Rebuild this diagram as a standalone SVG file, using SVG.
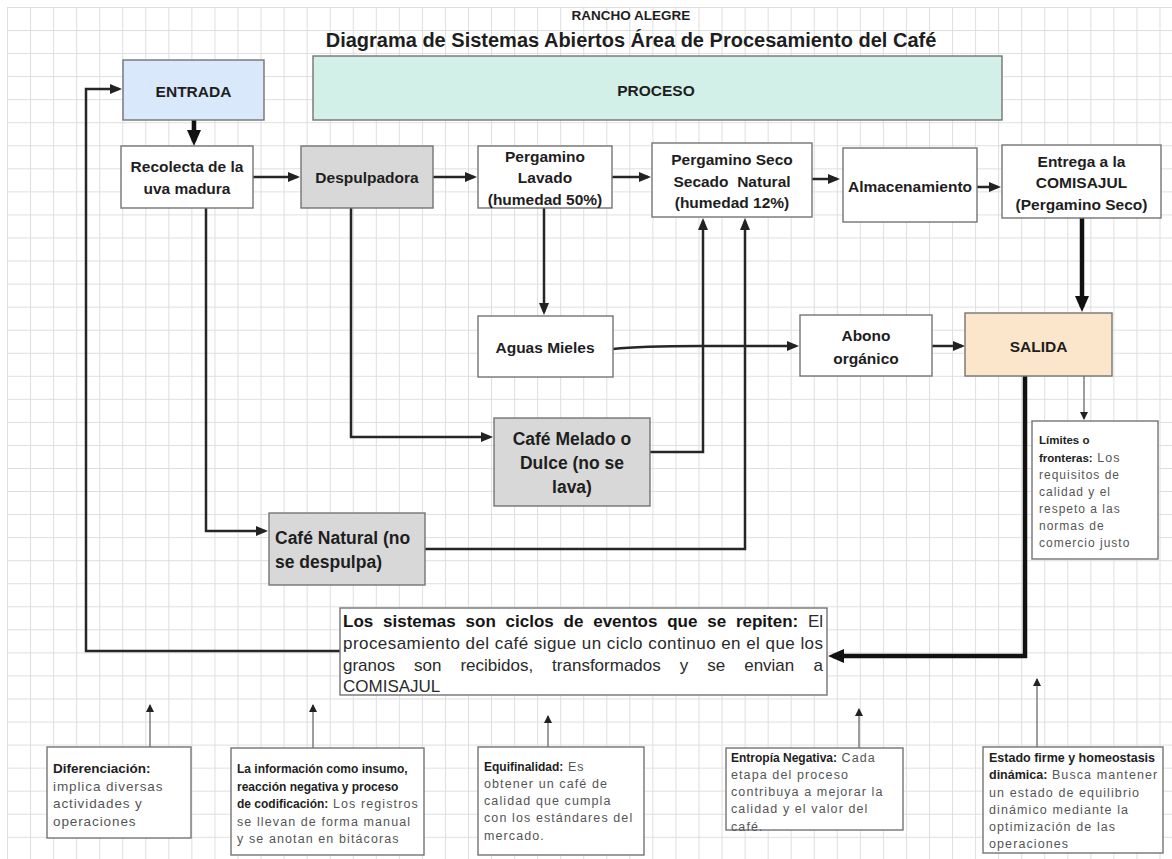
<svg xmlns="http://www.w3.org/2000/svg" width="1172" height="859" viewBox="0 0 1172 859">
  <defs>
    <pattern id="grid" x="7" y="7" width="23.05" height="23.05" patternUnits="userSpaceOnUse">
      <path d="M0.5 0V23.05M0 0.5H23.05" fill="none" stroke="#dedede" stroke-width="1"/>
    </pattern>
    <marker id="ah" viewBox="0 0 12 10" refX="9" refY="5" markerWidth="12" markerHeight="10" markerUnits="userSpaceOnUse" orient="auto">
      <path d="M0,0L12,5L0,10z" fill="#222"/>
    </marker>
    <marker id="ahBig" viewBox="0 0 16 14" refX="11" refY="7" markerWidth="16" markerHeight="14" markerUnits="userSpaceOnUse" orient="auto">
      <path d="M0,0L16,7L0,14z" fill="#111"/>
    </marker>
    <marker id="ahThin" viewBox="0 0 8 8" refX="7" refY="4" markerWidth="8" markerHeight="8" markerUnits="userSpaceOnUse" orient="auto">
      <path d="M0,0L8,4L0,8z" fill="#222"/>
    </marker>
  </defs>
  <style>
    text { font-family: "Liberation Sans", Arial, sans-serif; }
    .box { fill: #fff; stroke: #747474; stroke-width: 1.4; }
    .gray { fill: #d8d8d8; }
    .lbl { font-weight: bold; font-size: 15.5px; fill: #1e1e1e; text-anchor: middle; }
    .big { font-size: 17.5px; }
    .title { font-weight: bold; fill: #1e1e1e; text-anchor: middle; }
    .para { font-size: 17px; fill: #2a2a2a; }
    .b { font-weight: bold; fill: #151515; }
    .note { font-size: 12.5px; fill: #555; letter-spacing: 1.1px; }
    .noteb { font-weight: bold; fill: #1e1e1e; letter-spacing: 0; }
    .link { fill: none; stroke: #262626; stroke-width: 2.5; marker-end: url(#ah); }
    .thick { fill: none; stroke: #111; stroke-width: 4.5; marker-end: url(#ahBig); }
    .thin { fill: none; stroke: #6a6a6a; stroke-width: 1.3; marker-end: url(#ahThin); }
  </style>

  <rect width="1172" height="859" fill="#fff"/>
  <rect x="7" y="7" width="1165" height="852" fill="url(#grid)"/>

  <!-- heading -->
  <text class="title" x="631" y="20" font-size="13.5">RANCHO ALEGRE</text>
  <text class="title" x="631" y="47" font-size="20">Diagrama de Sistemas Abiertos Área de Procesamiento del Café</text>

  <!-- connectors -->
  <g id="connectors">
    <path class="link" d="M340,651H86V89H119" stroke-width="3"/>
    <path class="thick" d="M194,120V141"/>
    <path class="link" d="M253,177H297"/>
    <path class="link" d="M433,177H474"/>
    <path class="link" d="M612,177H648"/>
    <path class="link" d="M812,179H837"/>
    <path class="link" d="M968,187H998"/>
    <path class="link" d="M544,208V312"/>
    <path class="link" d="M613,349Q640,346 700,346H796"/>
    <path class="link" d="M932,346H962"/>
    <path class="thick" d="M1082,218V307"/>
    <path class="link" d="M351,208V437H490"/>
    <path class="link" d="M206,208V531H265"/>
    <path class="link" d="M650,452H703V221"/>
    <path class="link" d="M425,549H745V221"/>
    <path class="thick" d="M1025,376V656H833"/>
    <path class="thin" d="M1084,376V419"/>
    <path class="thin" d="M150,747V705"/>
    <path class="thin" d="M313,748V705"/>
    <path class="thin" d="M548,747V716"/>
    <path class="thin" d="M859,748V709"/>
    <path class="thin" d="M1037,747V679"/>
  </g>

  <g id="entrada">
    <rect class="box" x="123" y="60" width="141" height="60" style="fill:#dae8fc"/>
    <text class="lbl" x="193.5" y="97" font-size="16">ENTRADA</text>
  </g>
  <g id="proceso">
    <rect class="box" x="313" y="56" width="689" height="64" style="fill:#d2efe8"/>
    <text class="lbl" x="656" y="96">PROCESO</text>
  </g>
  <g id="recolecta">
    <rect class="box" x="121" y="146" width="132" height="62"/>
    <text class="lbl" x="187" y="172">Recolecta de la</text>
    <text class="lbl" x="187" y="194">uva madura</text>
  </g>
  <g id="despulpadora">
    <rect class="box gray" x="301" y="146" width="132" height="62"/>
    <text class="lbl" x="367" y="183">Despulpadora</text>
  </g>
  <g id="pergamino-lavado">
    <rect class="box" x="478" y="146" width="134" height="62"/>
    <text class="lbl" x="545" y="162">Pergamino</text>
    <text class="lbl" x="545" y="183">Lavado</text>
    <text class="lbl" x="545" y="205">(humedad 50%)</text>
  </g>
  <g id="pergamino-seco">
    <rect class="box" x="652" y="143" width="160" height="74"/>
    <text class="lbl" x="732" y="165">Pergamino Seco</text>
    <text class="lbl" x="732" y="187">Secado&#160; Natural</text>
    <text class="lbl" x="732" y="208">(humedad 12%)</text>
  </g>
  <g id="almacenamiento">
    <rect class="box" x="843" y="148" width="134" height="74"/>
    <text class="lbl" x="910" y="192" font-size="13.5">Almacenamiento</text>
  </g>
  <g id="entrega">
    <rect class="box" x="1002" y="145" width="159" height="73"/>
    <text class="lbl" x="1081.5" y="167" font-size="16">Entrega a la</text>
    <text class="lbl" x="1081.5" y="188" font-size="16">COMISAJUL</text>
    <text class="lbl" x="1081.5" y="210" font-size="16">(Pergamino Seco)</text>
  </g>
  <g id="aguas-mieles">
    <rect class="box" x="478" y="316" width="135" height="61"/>
    <text class="lbl" x="545" y="353" font-size="17">Aguas Mieles</text>
  </g>
  <g id="abono">
    <rect class="box" x="800" y="315" width="132" height="61"/>
    <text class="lbl" x="866" y="341" font-size="16.5">Abono</text>
    <text class="lbl" x="866" y="364" font-size="16.5">orgánico</text>
  </g>
  <g id="salida">
    <rect class="box" x="965" y="313" width="147" height="63" style="fill:#fce6cb"/>
    <text class="lbl" x="1038.5" y="352">SALIDA</text>
  </g>
  <g id="cafe-melado">
    <rect class="box gray" x="494" y="418" width="156" height="88"/>
    <text class="lbl big" x="572" y="445">Café Melado o</text>
    <text class="lbl big" x="572" y="469">Dulce (no se</text>
    <text class="lbl big" x="572" y="493">lava)</text>
  </g>
  <g id="cafe-natural">
    <rect class="box gray" x="269" y="513" width="156" height="72"/>
    <text class="lbl big" x="275" y="544" style="text-anchor:start">Café Natural (no</text>
    <text class="lbl big" x="275" y="568" style="text-anchor:start">se despulpa)</text>
  </g>

  <g id="limites">
    <rect class="box" x="1032" y="421" width="126" height="138"/>
    <text class="note" x="1039" y="444" font-size="12"><tspan class="noteb" font-size="11.5">Límites o</tspan></text>
    <text class="note" x="1039" y="461.5" font-size="12"><tspan class="noteb" font-size="11.5">fronteras:</tspan>  Los</text>
    <text class="note" x="1039" y="479" style="font-size:12px;letter-spacing:1px">requisitos de</text>
    <text class="note" x="1039" y="496" style="font-size:12px;letter-spacing:1px">calidad y el</text>
    <text class="note" x="1039" y="513" style="font-size:12px;letter-spacing:1px">respeto a las</text>
    <text class="note" x="1039" y="530" style="font-size:12px;letter-spacing:1px">normas de</text>
    <text class="note" x="1039" y="547" style="font-size:12px;letter-spacing:1px">comercio justo</text>
  </g>

  <g id="ciclo">
    <rect class="box" x="340" y="608" width="487" height="87"/>
    <text class="para b" y="627"><tspan x="343">Los</tspan><tspan x="383">sistemas</tspan><tspan x="465.6">son</tspan><tspan x="505.6">ciclos</tspan><tspan x="563.6">de</tspan><tspan x="593.2">eventos</tspan><tspan x="667.2">que</tspan><tspan x="707.2">se</tspan><tspan x="735.9">repiten:</tspan></text>
    <text class="para" x="823" y="627" text-anchor="end">El</text>
    <text class="para" x="343" y="649" textLength="480" lengthAdjust="spacing">procesamiento del café sigue un ciclo continuo en el que los</text>
    <text class="para" y="671"><tspan x="343">granos</tspan><tspan x="414">son</tspan><tspan x="460.4">recibidos,</tspan><tspan x="552.1">transformados</tspan><tspan x="679.7">y</tspan><tspan x="707.2">se</tspan><tspan x="744.2">envian</tspan></text>
    <text class="para" x="823" y="671" text-anchor="end">a</text>
    <text class="para" x="343" y="692">COMISAJUL</text>
  </g>

  <g id="diferenciacion">
    <rect class="box" x="47" y="747" width="144" height="91"/>
    <text class="note" x="53" y="773" style="font-size:13.5px;letter-spacing:0.9px"><tspan class="noteb">Diferenciación:</tspan></text>
    <text class="note" x="53" y="790.5" style="font-size:13.5px;letter-spacing:0.9px">implica diversas</text>
    <text class="note" x="53" y="808" style="font-size:13.5px;letter-spacing:0.9px">actividades y</text>
    <text class="note" x="53" y="825.5" style="font-size:13.5px;letter-spacing:0.9px">operaciones</text>
  </g>

  <g id="informacion">
    <rect class="box" x="231" y="748" width="193" height="107"/>
    <text class="note" x="237" y="773"><tspan class="noteb" font-size="12">La información como insumo,</tspan></text>
    <text class="note" x="237" y="790.5"><tspan class="noteb" font-size="12">reacción negativa y proceso</tspan></text>
    <text class="note" x="237" y="808"><tspan class="noteb" font-size="12">de codificación:</tspan> Los registros</text>
    <text class="note" x="237" y="825.5">se llevan de forma manual</text>
    <text class="note" x="237" y="843">y se anotan en bitácoras</text>
  </g>

  <g id="equifinalidad">
    <rect class="box" x="478" y="747" width="166" height="108"/>
    <text class="note" x="484" y="771"><tspan class="noteb" font-size="12">Equifinalidad:</tspan>  Es</text>
    <text class="note" x="484" y="788">obtener un café de</text>
    <text class="note" x="484" y="805">calidad que cumpla</text>
    <text class="note" x="484" y="822">con los estándares del</text>
    <text class="note" x="484" y="840">mercado.</text>
  </g>

  <g id="entropia">
    <rect class="box" x="726" y="748" width="177" height="82"/>
    <text class="note" x="731" y="762"><tspan class="noteb" font-size="12">Entropía Negativa:</tspan> Cada</text>
    <text class="note" x="731" y="779">etapa del proceso</text>
    <text class="note" x="731" y="796">contribuya a mejorar la</text>
    <text class="note" x="731" y="813">calidad y el valor del</text>
    <text class="note" x="731" y="831">café.</text>
  </g>

  <g id="estado-firme">
    <rect class="box" x="983" y="747" width="180" height="106"/>
    <text class="note" x="989" y="762"><tspan class="noteb" font-size="12.5">Estado firme y homeostasis</tspan></text>
    <text class="note" x="989" y="779"><tspan class="noteb" font-size="12.5">dinámica:</tspan> Busca mantener</text>
    <text class="note" x="989" y="797">un estado de equilibrio</text>
    <text class="note" x="989" y="814">dinámico mediante la</text>
    <text class="note" x="989" y="831">optimización de las</text>
    <text class="note" x="989" y="848">operaciones</text>
  </g>
</svg>
